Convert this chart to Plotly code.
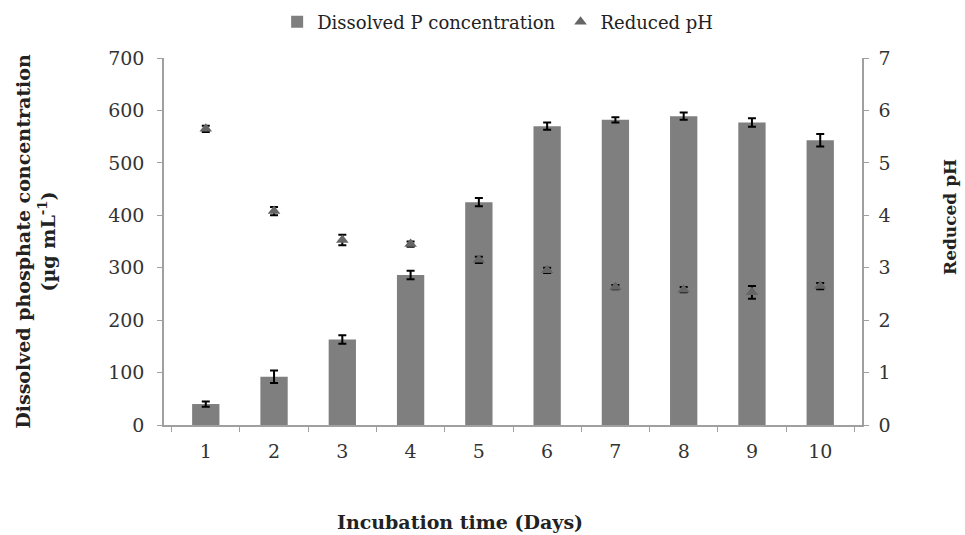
import plotly.graph_objects as go

days = ["1", "2", "3", "4", "5", "6", "7", "8", "9", "10"]
p_conc = [40, 92, 163, 286, 425, 570, 582, 589, 577, 543]
p_err = [5, 12, 8, 8, 8, 7, 5, 7, 8, 12]
ph = [5.65, 4.08, 3.53, 3.45, 3.15, 2.95, 2.63, 2.58, 2.53, 2.65]
ph_err = [0.06, 0.08, 0.1, 0.05, 0.06, 0.05, 0.04, 0.05, 0.12, 0.06]

font_family = "DejaVu Serif"

fig = go.Figure()
fig.add_trace(go.Bar(
    x=days, y=p_conc, name="Dissolved P concentration",
    marker=dict(color="#7f7f7f", line=dict(width=0)),
    width=0.4,
    error_y=dict(type="data", array=p_err, color="black", thickness=2, width=4),
))
fig.add_trace(go.Scatter(
    x=days, y=ph, name="Reduced pH", yaxis="y2", mode="markers",
    marker=dict(symbol="triangle-up", size=11, color="#666666"),
    error_y=dict(type="data", array=ph_err, color="black", thickness=2, width=4),
))

axis_line = dict(showline=True, linecolor="#a0a0a0", linewidth=1.5, ticks="outside",
                 tickcolor="#a0a0a0", ticklen=5, showgrid=False, zeroline=False,
                 tickfont=dict(family=font_family, size=19, color="#333"))

fig.update_layout(
    width=965, height=535,
    margin=dict(l=164, r=103, t=58, b=110, autoexpand=False),
    plot_bgcolor="white", paper_bgcolor="white",
    font=dict(family=font_family, size=17, color="#222"),
    bargap=0.6,
    showlegend=True,
    legend=dict(orientation="h", x=0.478, xanchor="center", yref="container",
                y=1 - 22 / 535, yanchor="middle",
                font=dict(family=font_family, size=18, color="#222"),
                itemwidth=30, tracegroupgap=0),
    xaxis=dict(type="category", tickson="boundaries", ticklabelstandoff=8, **axis_line),
    yaxis=dict(range=[0, 700], dtick=100, ticklabelstandoff=9, **axis_line,
               title=dict(text="<b>Dissolved phosphate concentration<br>(µg mL<sup>-1</sup>)</b>",
                          standoff=48, font=dict(family=font_family, size=19))),
    yaxis2=dict(range=[0, 7], dtick=1, overlaying="y", side="right", ticklabelstandoff=6,
                **axis_line),
    annotations=[
        dict(text="<b>Reduced pH</b>", textangle=-90, xref="paper", yref="paper",
             x=(950 - 164) / 698, y=(425 - 217) / 367, xanchor="center",
             yanchor="middle", showarrow=False,
             font=dict(family=font_family, size=17, color="#222")),
        dict(text="<b>Incubation time (Days)</b>", xref="paper", yref="paper",
             x=(460 - 164) / 698, y=(425 - 522) / 367, xanchor="center",
             yanchor="middle", showarrow=False,
             font=dict(family=font_family, size=19, color="#222")),
    ],
)

fig.write_html("out.html")
